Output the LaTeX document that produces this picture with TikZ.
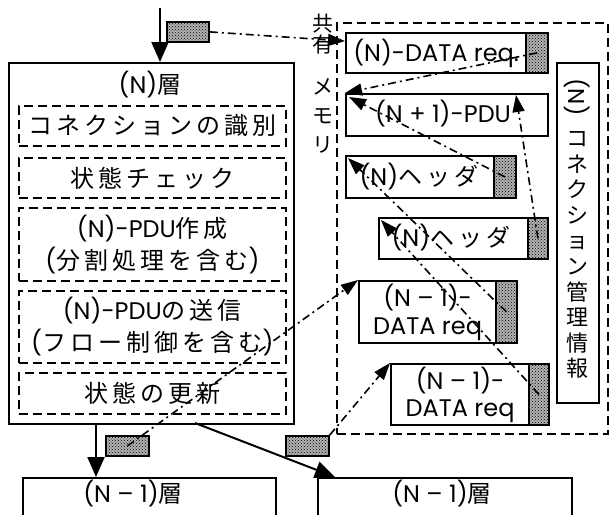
\documentclass[tikz,border=0pt]{standalone}
\usepackage{fontspec}
\setmainfont{Poppins}
\newfontfamily\jpf[LetterSpace=17]{Noto Sans CJK JP}
\newfontfamily\jpn{Noto Sans CJK JP}
\usetikzlibrary{arrows.meta,calc,patterns}
\tikzset{
  fnt/.style={font=\fontsize{24}{32}\selectfont},
  box/.style={draw, line width=2.2pt, inner sep=0pt, anchor=north west, fnt, align=center},
  dbox/.style={draw, line width=1.8pt, dash pattern=on 9pt off 5pt, inner sep=0pt, anchor=north west, fnt, align=center},
  shd/.style={draw, line width=1.8pt, preaction={fill=black!30}, pattern=crosshatch dots, pattern color=black, inner sep=0pt, anchor=north west},
  lbl/.style={inner sep=0pt, fnt, align=center},
  dd/.style={line width=1.6pt, dash pattern=on 8pt off 4pt on 2pt off 4pt, -{Triangle[length=17pt,width=12pt]}},
  sl/.style={line width=2pt, -{Triangle[length=20pt,width=17pt]}}
}
\begin{document}
\begin{tikzpicture}[x=1pt,y=-1pt]
\useasboundingbox (0,0) rectangle (610,514);
\clip (0,0) rectangle (610,514);
% (N) layer
\node[box, minimum width=285, minimum height=361] (NL) at (8,62) {};
\node[lbl] (tN) at (150,85) {(N){\jpn 層}};
\node[dbox, minimum width=267, minimum height=40] (d1) at (18,105) {\jpf コネクションの識別};
\node[dbox, minimum width=267, minimum height=40] (d2) at (18,157) {\jpf 状態チェック};
\node[dbox, minimum width=267, minimum height=73] (d3) at (18,207) {(N)-PDU{\jpf 作成}\\({\jpf 分割処理を含む})};
\node[dbox, minimum width=267, minimum height=72] (d4) at (18,290) {(N)-PDU{\jpf の送信}\\({\jpf フロー制御を含む})};
\node[dbox, minimum width=267, minimum height=41] (d5) at (18,372) {\jpf 状態の更新};
% shared memory
\node[dbox, minimum width=271, minimum height=411] (mem) at (336,22) {};
\node[lbl, font=\fontsize{21}{21}\selectfont\jpn] (ml1) at (323,34) {共\\有};
\node[lbl, font=\fontsize{21}{29}\selectfont\jpn] (ml2) at (323,116) {メ\\モ\\リ};
\node[box, minimum width=180, minimum height=40] (dreq) at (345,32) {(N)-DATA req.};
\node[shd, minimum width=22, minimum height=40] (dsh) at (525,32) {};
\node[box, minimum width=202, minimum height=42] (pdu1) at (345,93) {};
\node[lbl] (tpdu) at (443,114) {(N + 1)-PDU};
\node[box, minimum width=148, minimum height=42] (hd1) at (345,155) {};
\node[lbl] (thd1) at (419,177) {(N){\jpf ヘッダ}};
\node[shd, minimum width=22, minimum height=42] (hsh1) at (493,155) {};
\node[box, minimum width=149, minimum height=41] (hd2) at (378,217) {};
\node[lbl] (thd2) at (451,238) {(N){\jpf ヘッダ}};
\node[shd, minimum width=20, minimum height=41] (hsh2) at (527,217) {};
\node[box, minimum width=137, minimum height=62, font=\fontsize{24}{28}\selectfont] (nd1) at (358,280) {(N – 1)-\\DATA req};
\node[shd, minimum width=21, minimum height=62] (nsh1) at (495,280) {};
\node[box, minimum width=138, minimum height=61, font=\fontsize{24}{27}\selectfont] (nd2) at (390,363) {(N – 1)-\\DATA req};
\node[shd, minimum width=20, minimum height=61] (nsh2) at (528,363) {};
\node[box, minimum width=42, minimum height=340] (cm) at (556,62) {};
\node[lbl, font=\fontsize{23}{26}\selectfont] (cmN) at (577,97) {\rotatebox{-90}{(N)}};
\node[lbl, font=\fontsize{22}{25.6}\selectfont\jpn] (cmT) at (577,255) {コ\\ネ\\ク\\シ\\ョ\\ン\\管\\理\\情\\報};
% lower layers
\node[box, minimum width=253, minimum height=60] (bl) at (22,477) {};
\node[lbl] (tbl) at (133,494) {(N – 1){\jpn 層}};
\node[box, minimum width=254, minimum height=60] (br) at (317,477) {};
\node[lbl] (tbr) at (442,494) {(N – 1){\jpn 層}};
% shaded data blocks
\node[shd, minimum width=42, minimum height=20] (tsh) at (166,21) {};
\node[shd, minimum width=43, minimum height=20] (bsh1) at (105,435) {};
\node[shd, minimum width=43, minimum height=20] (bsh2) at (285,435) {};
% connectors
\coordinate (topin) at (160,8);
\draw[sl] (topin) -- (topin |- NL.north);
\draw[dd] (tsh.east) -- ($(dreq.west)+(0,-12)$);
\draw[dd] (dsh.center) -- (pdu1.north west);
\draw[dd] (hsh1.center) -- ($(pdu1.north west)+(4,4)$);
\coordinate (pmid) at (516,95);
\draw[dd] (hsh2.center) -- (pmid);
\draw[dd] (nsh1.center) -- ($(hd1.north west)+(3,3)$);
\draw[dd] (nsh2.center) -- ($(hd2.north west)+(3,3)$);
\draw[dd] (bsh1.center) -- (nd1.north west);
\draw[dd] (bsh2.north east) -- (nd2.north west);
\coordinate (la) at (96,423);
\draw[sl] (la) -- (la |- bl.north);
\coordinate (ra) at (195,423);
\draw[sl] (ra) -- ($(br.north west)+(18,0)$);
\end{tikzpicture}
\end{document}
